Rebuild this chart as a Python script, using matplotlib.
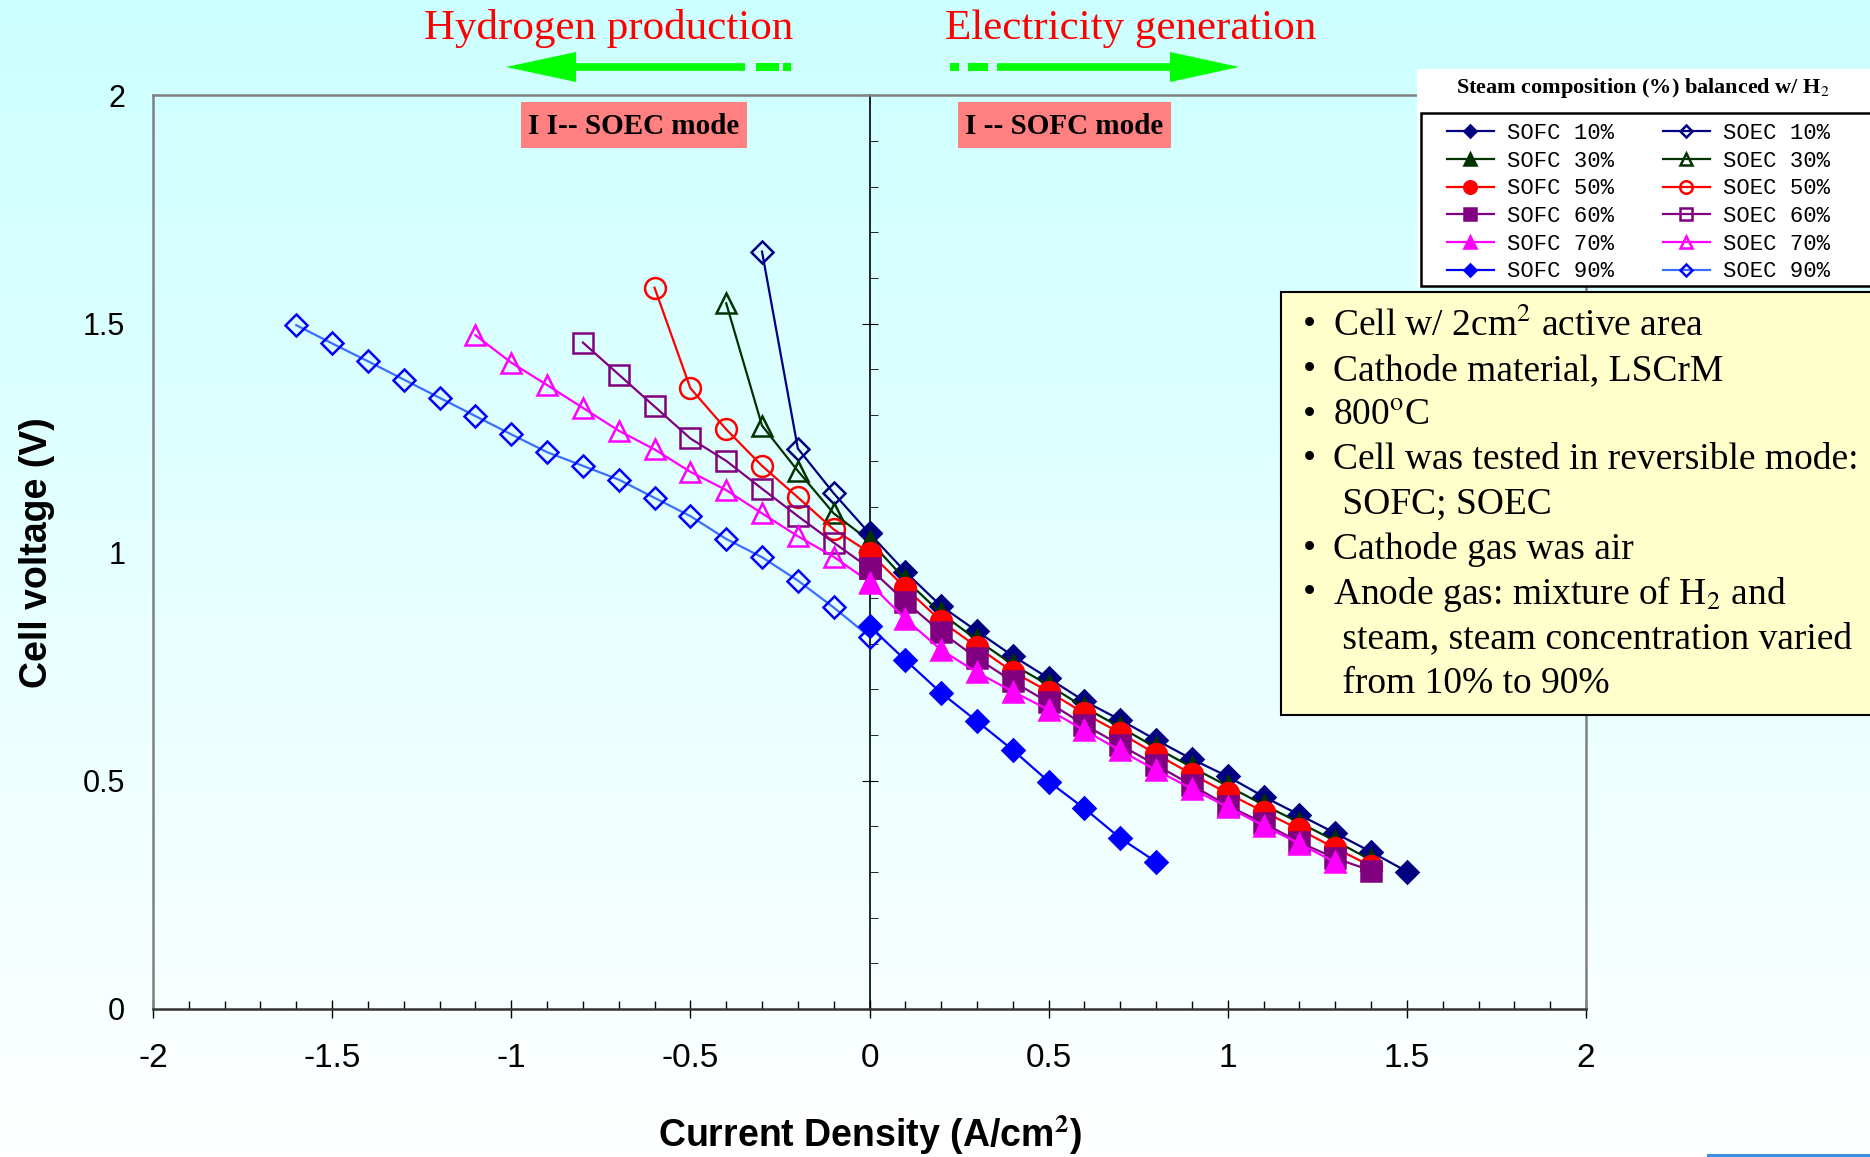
import matplotlib
matplotlib.use("Agg")
import matplotlib.pyplot as plt
import numpy as np
from matplotlib.patches import Rectangle, Polygon
from matplotlib.ticker import MultipleLocator

# ---------------- data ----------------
sofc10_x = [0.0, 0.1, 0.2, 0.3, 0.4, 0.5, 0.6, 0.7, 0.8, 0.9, 1.0, 1.1, 1.2, 1.3, 1.4, 1.5]
sofc10_v = [1.041, 0.957, 0.882, 0.827, 0.773, 0.724, 0.674, 0.633, 0.589, 0.547, 0.509, 0.465, 0.425, 0.385, 0.344, 0.301]
sofc30_x = [0.0, 0.1, 0.2, 0.3, 0.4, 0.5, 0.6, 0.7, 0.8, 0.9, 1.0, 1.1, 1.2, 1.3, 1.4]
sofc30_v = [1.025, 0.940, 0.866, 0.808, 0.754, 0.709, 0.660, 0.617, 0.572, 0.529, 0.488, 0.447, 0.408, 0.368, 0.326]
sofc50_x = [0.0, 0.1, 0.2, 0.3, 0.4, 0.5, 0.6, 0.7, 0.8, 0.9, 1.0, 1.1, 1.2, 1.3, 1.4]
sofc50_v = [0.999, 0.922, 0.849, 0.793, 0.738, 0.695, 0.647, 0.604, 0.558, 0.514, 0.472, 0.432, 0.393, 0.352, 0.313]
sofc60_x = [0.0, 0.1, 0.2, 0.3, 0.4, 0.5, 0.6, 0.7, 0.8, 0.9, 1.0, 1.1, 1.2, 1.3, 1.4]
sofc60_v = [0.965, 0.892, 0.825, 0.768, 0.717, 0.671, 0.622, 0.578, 0.534, 0.490, 0.445, 0.407, 0.365, 0.330, 0.303]
sofc70_x = [0.0, 0.1, 0.2, 0.3, 0.4, 0.5, 0.6, 0.7, 0.8, 0.9, 1.0, 1.1, 1.2, 1.3]
sofc70_v = [0.932, 0.854, 0.786, 0.737, 0.695, 0.655, 0.610, 0.566, 0.523, 0.482, 0.442, 0.401, 0.362, 0.321]
sofc90_x = [0.0, 0.1, 0.2, 0.3, 0.4, 0.5, 0.6, 0.7, 0.8]
sofc90_v = [0.838, 0.764, 0.692, 0.630, 0.567, 0.498, 0.439, 0.374, 0.322]

soec10_x = [-0.3, -0.2, -0.1, 0.0]
soec10_v = [1.658, 1.227, 1.129, 1.041]
soec30_x = [-0.4, -0.3, -0.2, -0.1, 0.0]
soec30_v = [1.545, 1.277, 1.178, 1.085, 1.025]
soec50_x = [-0.6, -0.5, -0.4, -0.3, -0.2, -0.1, 0.0]
soec50_v = [1.579, 1.359, 1.269, 1.189, 1.120, 1.050, 0.999]
soec60_x = [-0.8, -0.7, -0.6, -0.5, -0.4, -0.3, -0.2, -0.1, 0.0]
soec60_v = [1.459, 1.389, 1.319, 1.249, 1.200, 1.139, 1.079, 1.021, 0.965]
soec70_x = [-1.1, -1.0, -0.9, -0.8, -0.7, -0.6, -0.5, -0.4, -0.3, -0.2, -0.1, 0.0]
soec70_v = [1.475, 1.415, 1.366, 1.316, 1.266, 1.225, 1.176, 1.136, 1.085, 1.035, 0.990, 0.935]
soec90_x = [-1.6, -1.5, -1.4, -1.3, -1.2, -1.1, -1.0, -0.9, -0.8, -0.7, -0.6, -0.5, -0.4, -0.3, -0.2, -0.1, 0.0]
soec90_v = [1.497, 1.457, 1.418, 1.378, 1.338, 1.298, 1.258, 1.219, 1.189, 1.159, 1.119, 1.079, 1.029, 0.989, 0.938, 0.879, 0.815]

x_ticks = [-2, -1.5, -1, -0.5, 0, 0.5, 1, 1.5, 2]
x_ticklabels = ["-2", "-1.5", "-1", "-0.5", "0", "0.5", "1", "1.5", "2"]
y_ticks = [0, 0.5, 1, 1.5, 2]
y_ticklabels = ["0", "0.5", "1", "1.5", "2"]

legend_title = "Steam composition (%) balanced w/ H$_2$"
notes = [
    ("\u2022", "Cell w/ 2cm$^2$ active area"),
    ("\u2022", "Cathode material, LSCrM"),
    ("\u2022", "800$^{\\rm o}$C"),
    ("\u2022", "Cell was tested in reversible mode:"),
    ("", " SOFC; SOEC"),
    ("\u2022", "Cathode gas was air"),
    ("\u2022", "Anode gas: mixture of H$_2$ and"),
    ("", " steam, steam concentration varied"),
    ("", " from 10% to 90%"),
]

# ---------------- figure ----------------
W, H = 1870, 1157
plt.rcParams['mathtext.fontset'] = 'stix'
fig = plt.figure(figsize=(W / 100, H / 100), dpi=100)


def fx(px):
    return px / W


def fy(py):
    return 1 - py / H


# background gradient
bg = fig.add_axes([0, 0, 1, 1], zorder=-10)
grad = np.linspace(0, 1, 256).reshape(-1, 1)
top = np.array([204, 255, 255]) / 255
bot = np.array([255, 255, 255]) / 255
img = top[None, None, :] * (1 - grad[:, :, None]) + bot[None, None, :] * grad[:, :, None]
bg.imshow(img, aspect='auto', extent=[0, 1, 0, 1])
bg.set_axis_off()

ax = fig.add_axes([fx(153), fy(1009), fx(1586 - 153), (1009 - 95.4) / H])
ax.patch.set_alpha(0)

series = [
    (sofc10_x, sofc10_v, dict(color='#000080', marker='D', ms=11, mfc='#000080', mec='#000080'), "SOFC 10%"),
    (sofc30_x, sofc30_v, dict(color='#003300', marker='^', ms=15, mfc='#003300', mec='#003300'), "SOFC 30%"),
    (sofc50_x, sofc50_v, dict(color='#FF0000', marker='o', ms=15, mfc='#FF0000', mec='#FF0000'), "SOFC 50%"),
    (sofc60_x, sofc60_v, dict(color='#800080', marker='s', ms=15, mfc='#800080', mec='#800080'), "SOFC 60%"),
    (sofc70_x, sofc70_v, dict(color='#FF00FF', marker='^', ms=15, mfc='#FF00FF', mec='#FF00FF'), "SOFC 70%"),
    (sofc90_x, sofc90_v, dict(color='#0000FF', marker='D', ms=11, mfc='#0000FF', mec='#0000FF'), "SOFC 90%"),
    (soec10_x, soec10_v, dict(color='#000080', marker='D', ms=11, mfc='none', mec='#000080'), "SOEC 10%"),
    (soec30_x, soec30_v, dict(color='#003300', marker='^', ms=15, mfc='none', mec='#003300'), "SOEC 30%"),
    (soec50_x, soec50_v, dict(color='#FF0000', marker='o', ms=15, mfc='none', mec='#FF0000'), "SOEC 50%"),
    (soec60_x, soec60_v, dict(color='#800080', marker='s', ms=15, mfc='none', mec='#800080'), "SOEC 60%"),
    (soec70_x, soec70_v, dict(color='#FF00FF', marker='^', ms=15, mfc='none', mec='#FF00FF'), "SOEC 70%"),
    (soec90_x, soec90_v, dict(color='#3A6EFF', marker='D', ms=11, mfc='none', mec='#0000FF'), "SOEC 90%"),
]

lines = {}
# draw SOEC first, then SOFC on top
for xs, vs, st, lab in series[6:] + series[:6]:
    ln, = ax.plot(xs, vs, lw=1.6, mew=1.8, clip_on=False, label=lab, **st)
    lines[lab] = ln
handles = [lines[s[3]] for s in series]
labels = [s[3] for s in series]

ax.set_xlim(-2, 2)
ax.set_ylim(0, 2)
ax.set_xticks(x_ticks)
ax.set_xticklabels(x_ticklabels)
ax.set_yticks(y_ticks)
ax.set_yticklabels(y_ticklabels)
ax.xaxis.set_minor_locator(MultipleLocator(0.1))
ax.tick_params(axis='x', which='major', direction='inout', length=13, width=1, pad=18,
               labelsize=24, colors='black')
ax.tick_params(axis='x', which='minor', direction='in', length=6, width=1)
ax.tick_params(axis='y', which='both', length=0, pad=20, labelsize=22)
for lbl in ax.get_xticklabels() + ax.get_yticklabels():
    lbl.set_family(['Liberation Sans', 'DejaVu Sans'])

for s in ['left', 'top', 'right']:
    ax.spines[s].set_color('#808080')
    ax.spines[s].set_linewidth(1.8)
ax.spines['bottom'].set_color('#333333')
ax.spines['bottom'].set_linewidth(1.8)

ax.set_xlabel("Current Density (A/cm$^\\mathbf{2}$)", fontsize=27, fontweight='bold',
              family=['Liberation Sans', 'DejaVu Sans'])
ax.set_ylabel("Cell voltage (V)", fontsize=27, fontweight='bold',
              family=['Liberation Sans', 'DejaVu Sans'])
ax.xaxis.set_label_coords(0.5, -0.138)
ax.yaxis.set_label_coords(-0.081, 0.5)
ax.xaxis.label.set_va('center')
ax.yaxis.label.set_va('center')

# zero axis with its own ticks
ax0 = ax.twinx()
ax0.set_ylim(0, 2)
for s in ['left', 'top', 'bottom']:
    ax0.spines[s].set_visible(False)
ax0.spines['right'].set_position(('data', 0))
ax0.spines['right'].set_color('black')
ax0.spines['right'].set_linewidth(1.2)
ax0.yaxis.set_major_locator(MultipleLocator(0.5))
ax0.yaxis.set_minor_locator(MultipleLocator(0.1))
ax0.tick_params(axis='y', which='major', direction='inout', length=12, labelright=False)
ax0.tick_params(axis='y', which='minor', direction='out', length=6)
ax0.set_zorder(ax.get_zorder() - 1)
ax0.patch.set_visible(False)

# ---------------- annotations ----------------
serif = ['Liberation Serif', 'DejaVu Serif']
fig.text(fx(609), fy(29), "Hydrogen production", color='red', fontsize=31,
         family=serif, ha='center', va='center')
fig.text(fx(1131), fy(29), "Electricity generation", color='red', fontsize=31,
         family=serif, ha='center', va='center')

green = '#00FF00'


def arrow_poly(tip, base, end, yc, hh, th):
    pts = [(tip, yc), (base, yc + hh), (base, yc + th), (end, yc + th),
           (end, yc - th), (base, yc - th), (base, yc - hh)]
    return Polygon([(fx(a), fy(b)) for a, b in pts], closed=True, transform=fig.transFigure,
                   facecolor=green, edgecolor='none')


def rect(x0, x1, yc, th, **kw):
    return Rectangle((fx(x0), fy(yc + th)), fx(x1 - x0), th * 2 / H, transform=fig.transFigure, **kw)


fig.patches.append(arrow_poly(506, 576, 745, 67, 15, 3.8))
fig.patches.append(arrow_poly(1239, 1170, 997, 67, 15, 3.8))
for a, b in [(756, 779), (783, 791), (950, 959), (968, 988)]:
    fig.patches.append(rect(a, b, 67, 3.8, facecolor=green, edgecolor='none'))

# mode labels
for (x0, x1, txt) in [(521, 747, "I I-- SOEC mode"), (958, 1171, "I -- SOFC mode")]:
    fig.patches.append(Rectangle((fx(x0), fy(148)), fx(x1 - x0), 46 / H, transform=fig.transFigure,
                                 facecolor='#FF8080', edgecolor='none', zorder=3))
    fig.text(fx((x0 + x1) / 2), fy(126), txt, fontsize=21, fontweight='bold', family=serif,
             ha='center', va='center', zorder=4)

# legend backdrop, frame and title
fig.patches.append(Rectangle((fx(1417), fy(287)), fx(W - 1417), (287 - 69) / H,
                             transform=fig.transFigure, facecolor='white', edgecolor='none', zorder=5))
fig.patches.append(Rectangle((fx(1421), fy(286)), fx(W - 1421 + 20), (286 - 113) / H,
                             transform=fig.transFigure, facecolor='white', edgecolor='black',
                             linewidth=1.8, zorder=5.5))
fig.text(fx(1643), fy(88), legend_title, fontsize=16, fontweight='bold', family=serif,
         ha='center', va='center', zorder=6)
leg = fig.legend(handles, labels, ncol=2, loc='upper left',
                 bbox_to_anchor=(fx(1447), fy(123)), frameon=False,
                 prop={'family': ['Liberation Mono', 'DejaVu Sans Mono'], 'size': 16},
                 markerscale=0.6, handlelength=2.1, handletextpad=0.6, columnspacing=2.2,
                 labelspacing=0.3, borderpad=0, borderaxespad=0)
leg.set_zorder(7)

# notes box
fig.patches.append(Rectangle((fx(1281), fy(715)), fx(W - 1281 + 20), (715 - 292) / H,
                             transform=fig.transFigure, facecolor='#FFFFCC', edgecolor='black',
                             linewidth=1.5, zorder=5))
y0 = 326
for i, (b, t) in enumerate(notes):
    yy = y0 + i * 44.7
    if b:
        fig.text(fx(1303), fy(yy), b, fontsize=27, family=serif, ha='left', va='center', zorder=6)
    fig.text(fx(1333), fy(yy), t, fontsize=27, family=serif, ha='left', va='center', zorder=6)

# small decorative strip at bottom edge
fig.patches.append(Rectangle((fx(1707), 0), fx(W - 1707), 3 / H, transform=fig.transFigure,
                             facecolor='#3A8EE6', edgecolor='none', zorder=6))

fig.savefig("out.png", dpi=100)
